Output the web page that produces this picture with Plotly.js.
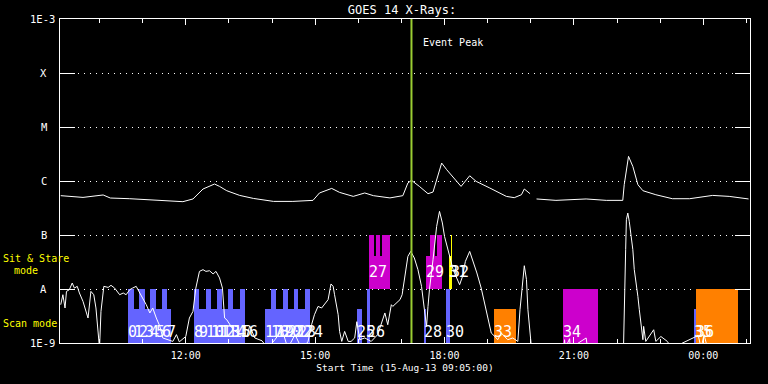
<!DOCTYPE html>
<html>
<head>
<meta charset="utf-8">
<script src="https://cdn.plot.ly/plotly-3.0.1.min.js"></script>
<style>html,body{margin:0;padding:0;background:#000;}#chart{width:768px;height:384px;}</style>
</head>
<body>
<div id="chart"></div>
<script>
// ---------- GOES 14 long channel (upper curve) ----------
const upperTime = ["09:06","09:19","09:37","10:05","10:15","10:42","11:15","11:56","12:10","12:24","12:40","12:47","12:57","13:15","13:34","14:02","14:29","14:57","15:06","15:23","15:34","15:53","16:09","16:21","16:44","17:02","17:09","17:14","17:25","17:37","17:44","17:51","17:56","18:03","18:09","18:23","18:35","18:44","19:03","19:26","19:37","19:47","19:51","19:59","20:03","20:08","20:35","21:17","21:45","22:08","22:10","22:16","22:22","22:29","22:36","22:54","23:17","23:41","00:13","00:36","01:03"];
const upperFlux = [5.35e-7,5.19e-7,4.97e-7,5.51e-7,4.84e-7,4.70e-7,4.38e-7,4.14e-7,4.65e-7,7.11e-7,8.79e-7,7.94e-7,6.61e-7,5.41e-7,4.76e-7,4.19e-7,4.19e-7,4.38e-7,6.0e-7,7.29e-7,6.15e-7,5.19e-7,6.0e-7,5.35e-7,4.86e-7,5.35e-7,9.18e-7,1.03e-6,7.94e-7,5.82e-7,6.25e-7,1.22e-6,2.15e-6,1.62e-6,1.31e-6,7.94e-7,1.25e-6,9.84e-7,7.41e-7,5.19e-7,4.91e-7,5.57e-7,7.11e-7,5.82e-7,null,4.65e-7,4.38e-7,4.65e-7,4.38e-7,4.38e-7,8.55e-7,2.86e-6,1.86e-6,8.55e-7,6.61e-7,5.57e-7,4.70e-7,4.70e-7,5.41e-7,5.19e-7,4.65e-7];

// ---------- GOES 14 short channel (lower curve) ----------
const lowerTime = ["09:06","09:09","09:12","09:14","09:18","09:22","09:25","09:29","09:32","09:37","09:44","09:48","09:52","09:55","10:00","10:02","10:06","10:12","10:16","10:21","10:28","10:33","10:37","10:42","10:46","10:51","10:56","11:00","11:05","11:10","11:14","11:19","11:24","11:28","11:35","11:42","11:47","11:51","12:00","12:05","12:10","12:14","12:19","12:24","12:28","12:33","12:38","12:42","12:47","12:51","12:54","12:57","13:06","13:15","13:25","13:29","13:36","13:46","13:54","14:04","14:14","14:22","14:32","14:41","14:50","14:55","14:59","15:04","15:09","15:13","15:18","15:22","15:25","15:27","15:30","15:32","15:34","15:37","15:41","15:46","15:50","15:55","15:58","16:02","16:09","16:18","16:27","16:32","16:37","16:41","16:46","16:48","16:53","16:58","17:01","17:04","17:09","17:13","17:18","17:23","17:28","17:32","17:35","17:37","17:39","17:44","17:49","17:53","17:57","18:00","18:05","18:12","18:16","18:21","18:25","18:29","18:35","18:40","18:45","18:51","18:56","19:00","19:05","19:10","19:14","19:19","19:28","19:35","19:42","19:45","19:49","19:51","19:54","19:56","20:01","20:03","20:08","20:46","20:47","20:48","20:54","20:55","21:17","21:19","22:09","22:10","22:12","22:13","22:15","22:17","22:20","22:22","22:24","22:27","22:29","22:31","22:34","22:36","22:37","22:40","22:51","22:54","23:01","23:10","23:16","23:53","23:57","00:01","00:06","01:04"];
const lowerFlux = [5.12e-9,7.84e-9,4.45e-9,9.03e-9,9.7e-9,1.29e-8,1.04e-8,1.12e-8,8.43e-9,5.89e-9,2.9e-9,9.03e-9,7.84e-9,4.45e-9,8e-10,3.85e-9,1.12e-8,1.07e-8,1.17e-8,1.04e-8,7.84e-9,8.43e-9,7.84e-9,9.7e-9,1.04e-8,1.12e-8,8.43e-9,6.81e-9,5.12e-9,3.6e-9,4.45e-9,2.9e-9,2.03e-9,1.24e-9,1.15e-9,1.07e-9,1.43e-9,1.05e-9,1.32e-9,2.9e-9,3.85e-9,1.04e-8,2.12e-8,2.28e-8,2.12e-8,2.18e-8,1.9e-8,2.12e-8,1.6e-8,1.04e-8,2.9e-9,2.7e-9,1.76e-9,1.43e-9,1.32e-9,2.09e-9,1.24e-9,1.1e-9,8e-10,1.15e-9,1.76e-9,8e-10,1.43e-9,8e-10,1.05e-9,2.18e-9,3.34e-9,4.76e-9,4.45e-9,5.12e-9,6.34e-9,1.24e-8,1.12e-8,7.84e-9,5.12e-9,3.34e-9,1.64e-9,1.07e-9,1.64e-9,1.07e-9,1.07e-9,1.24e-9,2.48e-9,1.15e-9,1.24e-9,1.07e-9,1.43e-9,2.18e-9,3.6e-9,2.18e-9,5.12e-9,4.76e-9,5.51e-9,6.34e-9,7.84e-9,1.49e-8,4.02e-8,4.97e-8,3.75e-8,2.28e-8,1.12e-8,4.14e-9,2.03e-9,4.76e-9,9.7e-9,3.49e-8,1.44e-7,2.74e-7,1.67e-7,9.42e-8,5.35e-8,2.28e-8,1.71e-8,1.2e-8,1.71e-8,3.24e-8,4.97e-8,3.24e-8,1.98e-8,1.04e-8,5.51e-9,3.11e-9,1.53e-9,1.32e-9,1.15e-9,1.53e-9,1.15e-9,1.24e-9,1.07e-9,4.14e-9,1.71e-8,2.7e-8,1.49e-8,4.14e-9,8e-10,null,8e-10,8e-10,1.15e-9,8e-10,1.2e-9,8e-10,1.24e-9,8e-10,8e-10,6.81e-9,5.35e-8,1.92e-7,2.55e-7,1.79e-7,9.42e-8,5.35e-8,2.28e-8,1.29e-8,7.3e-9,4.14e-9,2.03e-9,1.15e-9,2.03e-9,1.07e-9,1.76e-9,1.07e-9,1.32e-9,1.07e-9,8e-10,1.38e-9,8e-10,1.43e-9,8e-10,8e-10];

// ---------- observation blocks ----------
// scan mode (blue), base at 1E-9
const blueStart = ["10:39:30","10:47:18","10:55:12","11:03:00","11:10:48","11:18:36","11:26:18","11:34:06","12:11:40","12:18:36","12:27:55","12:34:27","12:43:38","12:50:34","12:58:55","13:05:52","13:15:10","13:50:37","13:59:14","14:06:11","14:14:56","14:21:53","14:30:13","14:36:46","14:45:32","15:57:47","16:11:40","17:30:55","18:01:29","23:47:35"];
const blueEnd   = ["10:47:18","10:55:12","11:03:00","11:10:48","11:18:36","11:26:18","11:34:06","11:39:18","12:18:36","12:27:55","12:34:27","12:43:38","12:50:34","12:58:55","13:05:52","13:15:10","13:22:07","13:59:14","14:06:11","14:14:56","14:21:53","14:30:13","14:36:46","14:45:32","14:52:28","16:04:44","16:15:53","17:34:40","18:07:03","23:50:20"];
const blueTop   = [1e-8,4.2e-9,1e-8,4.2e-9,1e-8,4.2e-9,1e-8,4.2e-9,1e-8,4.2e-9,1e-8,4.2e-9,1e-8,4.2e-9,1e-8,4.2e-9,1e-8,4.2e-9,1e-8,4.2e-9,1e-8,4.2e-9,1e-8,4.2e-9,1e-8,4.2e-9,1e-8,4.2e-9,1e-8,4.2e-9];
// magenta blocks
const magentaStart = ["16:14:28","16:14:28","16:25:11","16:33:31","17:33:43","17:39:15","17:49:57","20:45:30"];
const magentaEnd   = ["16:43:40","16:21:50","16:29:46","16:43:40","17:56:54","17:46:12","17:56:54","21:34:08"];
const magentaBase  = [1e-8,1e-8,1e-8,1e-8,1e-8,1e-8,1e-8,1e-9];
const magentaTop   = [4.14e-8,1e-7,1e-7,1e-7,4.14e-8,1e-7,1e-7,1e-8];
// yellow blocks
const yellowStart = ["18:05:40","18:08:26"];
const yellowEnd   = ["18:10:16","18:10:16"];
const yellowBase  = [1e-8,1e-8];
const yellowTop   = [4.14e-8,1e-7];
// orange blocks
const orangeStart = ["19:08:12","23:50:20"];
const orangeEnd   = ["19:39:46","00:48:43"];
const orangeBase  = [1e-9,1e-9];
const orangeTop   = [4.2e-9,1e-8];

// observation numbers
const labelText = ["0","1","2","3","4","5","6","7","8","9","10","11","12","13","14","15","16","17","18","19","20","21","22","23","24","25","26","27","28","29","30","31","32","33","34","35","36"];
const labelTime = ["10:39:30","10:47:18","10:55:12","11:03:00","11:10:48","11:18:36","11:26:18","11:34:06","12:11:40","12:18:36","12:27:55","12:34:27","12:43:38","12:50:34","12:58:55","13:05:52","13:15:10","13:50:37","13:59:14","14:06:11","14:14:56","14:21:53","14:30:13","14:36:46","14:45:32","15:57:47","16:11:40","16:14:28","17:30:55","17:33:43","18:01:29","18:05:40","18:08:26","19:08:12","20:45:30","23:47:35","23:50:20"];
const labelBand = ["scan","scan","scan","scan","scan","scan","scan","scan","scan","scan","scan","scan","scan","scan","scan","scan","scan","scan","scan","scan","scan","scan","scan","scan","scan","scan","scan","stare","scan","stare","scan","stare","stare","scan","scan","scan","scan"];

// axis labels
const classTickVals = [1e-9,1e-8,1e-7,1e-6,1e-5,1e-4,1e-3];
const classTickText = ["1E-9","A","B","C","M","X","1E-3"];
const eventPeak = "17:14";

// ---------- helpers ----------
const FONT = "DejaVu Sans Mono, monospace";
function toDate(s){
  const h = parseInt(s.slice(0,2),10);
  return (h < 9 ? "2013-08-16 " : "2013-08-15 ") + s;
}
function toMs(s){
  const d = toDate(s);
  const p = d.split(/[- :]/).map(Number);
  return Date.UTC(p[0], p[1]-1, p[2], p[3], p[4], p[5]||0);
}
function blockTrace(starts, ends, bases, tops, color){
  return {
    type:"bar",
    x: starts.map(toDate),
    width: starts.map((s,i)=>toMs(ends[i])-toMs(s)),
    offset: starts.map(()=>0),
    base: bases,
    y: tops.map((t,i)=>t-bases[i]),
    marker:{color:color, line:{width:0}},
    hoverinfo:"skip"
  };
}

const traces = [
  blockTrace(blueStart, blueEnd, blueStart.map(()=>1e-9), blueTop, "#6464ff"),
  blockTrace(magentaStart, magentaEnd, magentaBase, magentaTop, "#cc00cc"),
  blockTrace(orangeStart, orangeEnd, orangeBase, orangeTop, "#ff8000"),
  blockTrace(yellowStart, yellowEnd, yellowBase, yellowTop, "#ffff00"),
  {type:"scatter", mode:"lines", x:upperTime.map(toDate), y:upperFlux, line:{color:"#ffffff", width:1}, connectgaps:false, hoverinfo:"skip"},
  {type:"scatter", mode:"lines", x:lowerTime.map(toDate), y:lowerFlux, line:{color:"#ffffff", width:1}, connectgaps:false, hoverinfo:"skip"}
];

const annotations = [];
// y-axis class labels
classTickVals.forEach((v,i)=>{
  const t = classTickText[i];
  const isNum = t.length > 1;
  annotations.push({
    xref:"paper", yref:"y", x: isNum ? -3/690 : -16.5/690, y: Math.log10(v),
    xanchor: isNum ? "right" : "center", yanchor:"middle",
    text:t, showarrow:false, font:{family:FONT, size:10.5, color:"#ffffff"}
  });
});
// mode labels
annotations.push({xref:"paper", yref:"paper", x:-59/690, y:0.260, xanchor:"left", yanchor:"middle", text:"Sit & Stare", showarrow:false, font:{family:FONT,size:10,color:"#ffff00"}});
annotations.push({xref:"paper", yref:"paper", x:-48/690, y:0.223, xanchor:"left", yanchor:"middle", text:"mode", showarrow:false, font:{family:FONT,size:10,color:"#ffff00"}});
annotations.push({xref:"paper", yref:"paper", x:-59/690, y:0.061, xanchor:"left", yanchor:"middle", text:"Scan mode", showarrow:false, font:{family:FONT,size:10,color:"#ffff00"}});
// event peak
annotations.push({xref:"x", yref:"paper", x:toDate(eventPeak), xshift:10, y:0.928, xanchor:"left", yanchor:"middle", text:"Event Peak", showarrow:false, font:{family:FONT,size:10,color:"#ffffff"}});
// observation numbers
labelText.forEach((t,i)=>{
  annotations.push({
    xref:"x", yref:"paper", x:toDate(labelTime[i]), xshift:-2,
    y: labelBand[i]==="scan" ? 0.035 : 0.2185,
    xanchor:"left", yanchor:"middle", text:t, showarrow:false,
    font:{family:FONT, size:15, color:"#ffffff"}
  });
});

const layout = {
  width:768, height:384,
  margin:{l:60, r:18, t:19, b:41, pad:0},
  paper_bgcolor:"#000000", plot_bgcolor:"#000000",
  showlegend:false, barmode:"overlay", bargap:0,
  font:{family:FONT, color:"#ffffff", size:10},
  title:{text:"GOES 14 X-Rays:", font:{family:FONT, size:12, color:"#ffffff"},
         xref:"container", x:402/768, xanchor:"center", yref:"container", y:1-9.5/384, yanchor:"middle"},
  xaxis:{
    type:"date", range:["2013-08-15 09:05:00","2013-08-16 01:05:00"],
    showgrid:false, zeroline:false, showline:true, linecolor:"#ffffff", linewidth:1,
    mirror:"ticks", ticks:"inside", ticklen:6, tickwidth:1, tickcolor:"#ffffff",
    tick0:"2013-08-15 00:00:00", dtick:10800000, tickformat:"%H:%M",
    tickfont:{family:FONT, size:10, color:"#ffffff"}, ticklabelstandoff:3,
    minor:{dtick:3600000, ticks:"inside", ticklen:4, tickwidth:1, tickcolor:"#ffffff", showgrid:false},
    title:{text:"Start Time (15-Aug-13 09:05:00)", font:{family:FONT, size:9.5, color:"#ffffff"}, standoff:4},
    automargin:false, fixedrange:true
  },
  yaxis:{
    type:"log", range:[-9,-3], tickmode:"array", tickvals:classTickVals, showticklabels:false,
    ticks:"inside", ticklen:15, tickwidth:1, tickcolor:"#ffffff",
    showline:true, linecolor:"#ffffff", linewidth:1, mirror:"ticks",
    showgrid:true, gridcolor:"#ffffff", gridwidth:1, griddash:"1px,5px",
    zeroline:false, automargin:false, fixedrange:true
  },
  shapes:[{type:"line", xref:"x", yref:"paper", x0:toDate(eventPeak), x1:toDate(eventPeak), y0:0, y1:1,
           line:{color:"#9acd32", width:2}, layer:"above"}],
  annotations:annotations
};

Plotly.newPlot("chart", traces, layout, {staticPlot:true, displayModeBar:false});
</script>
</body>
</html>
